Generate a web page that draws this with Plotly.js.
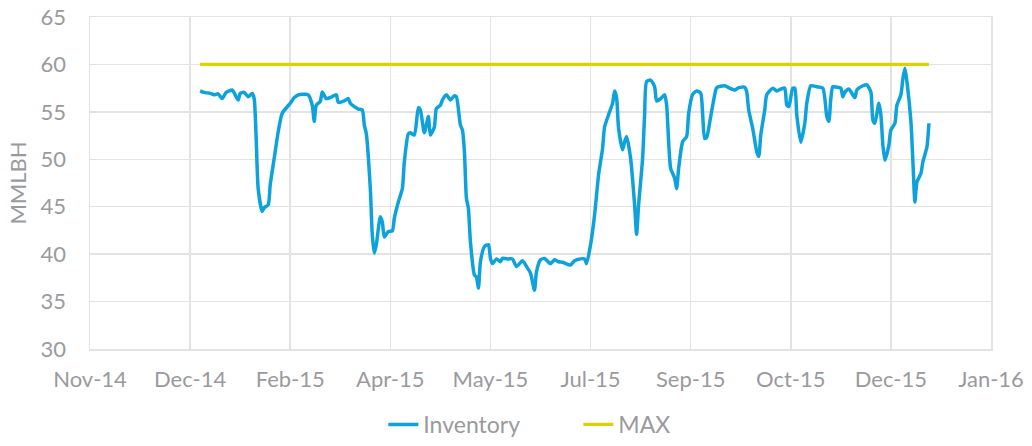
<!DOCTYPE html>
<html>
<head>
<meta charset="utf-8">
<script src="https://cdn.plot.ly/plotly-3.0.1.min.js"></script>
<style>html,body{margin:0;padding:0;background:#fff;}#chart{width:1032px;height:446px;}</style>
</head>
<body>
<div id="chart"></div>
<script>
const invDates = [
'2015-01-01','2015-01-03','2015-01-06','2015-01-08','2015-01-10','2015-01-12','2015-01-14','2015-01-17','2015-01-18','2015-01-20',
'2015-01-21','2015-01-23','2015-01-25','2015-01-27','2015-01-28','2015-01-29','2015-01-30','2015-02-01','2015-02-02','2015-02-04',
'2015-02-05','2015-02-07','2015-02-09','2015-02-11','2015-02-14','2015-02-15','2015-02-17','2015-02-19','2015-02-22','2015-02-24',
'2015-02-26','2015-02-27','2015-02-28','2015-03-02','2015-03-03','2015-03-05','2015-03-07','2015-03-10','2015-03-11','2015-03-14',
'2015-03-16','2015-03-17','2015-03-19','2015-03-21','2015-03-23','2015-03-24','2015-03-25','2015-03-27','2015-03-28','2015-03-29',
'2015-03-30','2015-04-01','2015-04-02','2015-04-03','2015-04-05','2015-04-07','2015-04-08','2015-04-10','2015-04-12','2015-04-13',
'2015-04-15','2015-04-16','2015-04-18','2015-04-20','2015-04-21','2015-04-23','2015-04-25','2015-04-26','2015-04-28','2015-04-29',
'2015-05-01','2015-05-02','2015-05-04','2015-05-06','2015-05-08','2015-05-09','2015-05-11','2015-05-12','2015-05-13','2015-05-14',
'2015-05-15','2015-05-16','2015-05-18','2015-05-19','2015-05-20','2015-05-21','2015-05-23','2015-05-25','2015-05-26','2015-05-27',
'2015-05-29','2015-05-31','2015-06-01','2015-06-04','2015-06-06','2015-06-08','2015-06-11','2015-06-13','2015-06-15','2015-06-17',
'2015-06-18','2015-06-20','2015-06-22','2015-06-25','2015-06-27','2015-06-29','2015-07-01','2015-07-05','2015-07-07','2015-07-10',
'2015-07-12','2015-07-13','2015-07-15','2015-07-17','2015-07-19','2015-07-21','2015-07-22','2015-07-24','2015-07-26','2015-07-27',
'2015-07-28','2015-07-29','2015-07-31','2015-08-01','2015-08-02','2015-08-04','2015-08-06','2015-08-07','2015-08-08','2015-08-10',
'2015-08-11','2015-08-12','2015-08-14','2015-08-16','2015-08-17','2015-08-19','2015-08-21','2015-08-22','2015-08-24','2015-08-26',
'2015-08-27','2015-08-28','2015-08-30','2015-09-01','2015-09-02','2015-09-04','2015-09-06','2015-09-08','2015-09-09','2015-09-10',
'2015-09-11','2015-09-13','2015-09-15','2015-09-16','2015-09-20','2015-09-22','2015-09-25','2015-09-27','2015-09-30','2015-10-01',
'2015-10-02','2015-10-04','2015-10-06','2015-10-07','2015-10-08','2015-10-10','2015-10-11','2015-10-14','2015-10-16','2015-10-18',
'2015-10-20','2015-10-21','2015-10-22','2015-10-24','2015-10-25','2015-10-26','2015-10-28','2015-10-30','2015-10-31','2015-11-02',
'2015-11-05','2015-11-08','2015-11-10','2015-11-11','2015-11-12','2015-11-13','2015-11-15','2015-11-17','2015-11-18','2015-11-19',
'2015-11-21','2015-11-24','2015-11-25','2015-11-28','2015-11-30','2015-12-02','2015-12-03','2015-12-04','2015-12-06','2015-12-07',
'2015-12-08','2015-12-09','2015-12-11','2015-12-12','2015-12-14','2015-12-15','2015-12-17','2015-12-18','2015-12-19','2015-12-20',
'2015-12-22','2015-12-23','2015-12-24','2015-12-25','2015-12-27','2015-12-28','2015-12-30','2015-12-31'
];
const inventory = [
57.2,57.05,56.95,56.8,56.9,56.4,57.05,57.3,57.0,56.25,
56.95,57.05,56.6,56.95,56.4,52.2,46.9,44.5,44.9,45.2,
47.3,50.1,52.9,54.85,55.65,55.9,56.5,56.8,56.85,56.8,
55.7,54.0,55.7,56.1,57.1,56.4,56.5,56.8,56.0,56.15,
56.4,55.9,55.55,55.3,55.2,53.6,52.7,46.9,42.0,40.1,
41.0,43.95,43.4,41.8,42.4,42.45,43.8,45.5,46.9,49.75,
52.7,52.8,52.55,55.45,55.2,52.8,54.5,52.55,53.4,55.35,
55.7,56.25,56.8,56.25,56.7,56.6,53.6,53.1,50.8,45.9,
44.8,41.3,37.8,37.6,36.4,39.2,40.8,41.0,39.55,39.0,
39.5,39.2,39.55,39.5,39.5,38.7,39.3,38.7,38.0,36.2,
38.15,39.4,39.55,39.0,39.4,39.2,39.15,38.85,39.3,39.5,
39.5,39.0,41.0,44.1,48.35,51.15,53.4,54.7,55.9,57.2,
56.5,53.25,51.0,51.85,52.4,50.1,45.2,42.1,45.2,50.1,
54.7,58.2,58.35,57.65,56.15,56.4,56.8,55.7,49.05,48.0,
46.9,49.05,51.85,52.4,54.85,56.85,57.2,57.0,54.7,52.2,
52.3,54.5,56.8,57.55,57.75,57.55,57.3,57.55,57.6,57.1,
55.2,53.25,50.8,50.3,52.55,55.2,56.8,57.5,57.2,57.4,
57.5,55.7,55.55,57.5,57.5,54.7,51.8,53.8,55.9,57.75,
57.65,57.5,54.5,54.0,56.4,57.65,57.6,57.5,56.6,57.05,
57.4,56.5,57.3,57.75,57.85,57.1,54.15,53.8,55.9,54.7,
51.5,49.9,51.5,53.1,53.8,55.7,56.8,58.5,59.6,58.2,
54.0,49.75,45.5,47.6,48.5,49.75,51.3,53.8
];
const maxDates = ['2015-01-01','2015-12-31'];
const maxValues = [60, 60];
const xTickDates = ['2014-11-07','2014-12-27','2015-02-15','2015-04-06','2015-05-26','2015-07-15','2015-09-03','2015-10-23','2015-12-12','2016-01-31'];
const xTickLabels = ['Nov-14','Dec-14','Feb-15','Apr-15','May-15','Jul-15','Sep-15','Oct-15','Dec-15','Jan-16'];
const yTickVals = [30,35,40,45,50,55,60,65];

const FONT = 'Lato, "Open Sans", sans-serif';
const TXT = '#9a9a9e';
const GRID = '#e3e3e3';

const traces = [
  {x: invDates, y: inventory, name: 'Inventory', type: 'scatter', mode: 'lines',
   line: {color: '#0ea2dc', width: 3.5, shape: 'spline', smoothing: 0.6}},
  {x: maxDates, y: maxValues, name: 'MAX', type: 'scatter', mode: 'lines',
   line: {color: '#dfd000', width: 3.2}}
];

const layout = {
  width: 1032, height: 446,
  margin: {l: 90, r: 41, t: 17, b: 97},
  paper_bgcolor: '#fff', plot_bgcolor: '#fff',
  font: {family: FONT, size: 22, color: TXT},
  showlegend: true,
  legend: {orientation: 'h', x: 0.542, xanchor: 'center', xref: 'paper', yref: 'container', y: -0.013, yanchor: 'bottom',
           font: {family: FONT, size: 23, color: TXT}, entrywidth: 150, tracegroupgap: 0},
  xaxis: {type: 'date', range: ['2014-11-07','2016-01-31'], tickmode: 'array',
          tickvals: xTickDates, ticktext: xTickLabels, showgrid: true, gridcolor: GRID, gridwidth: 1.5,
          zeroline: false, showline: true, linecolor: GRID, linewidth: 1.5, mirror: true,
          ticks: '', ticklabelstandoff: 10,
          tickfont: {family: FONT, size: 22, color: TXT}, fixedrange: true},
  yaxis: {range: [30, 65], tickmode: 'array', tickvals: yTickVals, showgrid: true, gridcolor: GRID, gridwidth: 1.5,
          zeroline: false, showline: true, linecolor: GRID, linewidth: 1.5, mirror: true,
          ticks: '', ticklabelstandoff: 18,
          tickfont: {family: FONT, size: 22, color: TXT},
          title: {text: 'MMLBH', font: {family: FONT, size: 22, color: TXT}, standoff: 8}, fixedrange: true}
};

Plotly.newPlot('chart', traces, layout, {staticPlot: true, displayModeBar: false});
</script>
</body>
</html>
